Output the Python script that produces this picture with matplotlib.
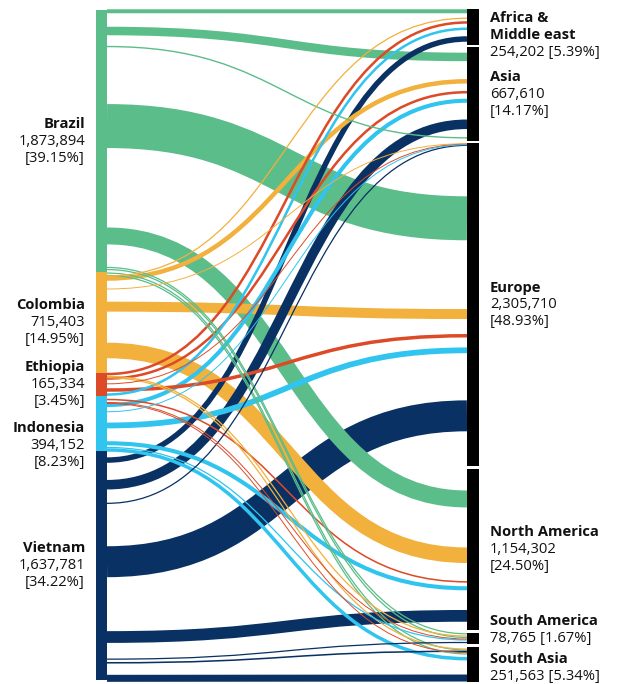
import textwrap
import matplotlib
matplotlib.use("Agg")
import matplotlib.pyplot as plt
from matplotlib.path import Path
from matplotlib.patches import PathPatch, Rectangle

# ---------------- data ----------------
sources = ["Brazil", "Colombia", "Ethiopia", "Indonesia", "Vietnam"]
source_totals = [1873894, 715403, 165334, 394152, 1637781]
source_colors = ["#5BBD8A", "#F2B03C", "#DD4A28", "#30C4EE", "#0A3163"]

targets = ["Africa & Middle east", "Asia", "Europe", "North America",
           "South America", "South Asia"]
target_totals = [254202, 667610, 2305710, 1154302, 78765, 251563]

# links (source index, target index, value in thousand tonnes)
link_source = [0, 0, 0, 0, 0, 0, 0, 0, 0,
               1, 1, 1, 1, 1, 1, 1,
               2, 2, 2, 2, 2, 2, 2,
               3, 3, 3, 3, 3, 3, 3,
               4, 4, 4, 4, 4, 4, 4, 4]
link_target = [0, 1, 1, 2, 3, 4, 4, 5, 5,
               0, 1, 2, 2, 3, 4, 5,
               0, 1, 2, 2, 3, 4, 5,
               0, 1, 2, 2, 3, 4, 5,
               0, 1, 2, 2, 3, 4, 5, 5]
link_value = [95, 203, 33, 1047, 403, 30, 30, 30, 30,
              30, 107, 23, 237, 370, 30, 30,
              60, 60, 23, 83, 37, 23, 23,
              60, 97, 23, 137, 97, 30, 83,
              130, 227, 30, 737, 280, 30, 37, 167]

# ---------------- layout ----------------
# where each link leaves / enters its node (thousand tonnes from node top)
link_src_pos = [9, 150, 261, 829, 1614, 1839, 1854, 1879, 1896,
                26, 44, 119, 245, 558, 743, 753,
                11, 43, 81, 125, 193, 214, 221,
                -8, 67, 115, 213, 340, 370, 388,
                66, 242, 375, 792, 1330, 1488, 1514, 1625]
link_tgt_pos = [16, 69, 647, 535, 215, 5, 31, 23, 51,
                66, 243, 2, 1219, 617, 21, 16,
                96, 321, 6, 1374, 807, 42, 41,
                141, 382, 10, 1478, 853, 49, 85,
                214, 550, 14, 1946, 1050, 67, 32, 223]

FIG_W, FIG_H, DPI = 621, 684, 100
PX_PER_KT = 0.14
TOP_PX = 10
LINK_SCALE = 0.3
LEFT_X = (96, 107)
RIGHT_X = (467, 479)
RIGHT_START = -7
RIGHT_GAP = 19
LINE_KT = 17.2 / PX_PER_KT
LEFT_LABEL_GAP = 68
RIGHT_LABEL_GAP = 25
TEXT_COLOR = "#111111"
FONT = ["Open Sans", "DejaVu Sans"]
FONT_SIZE = 10.6

fig = plt.figure(figsize=(FIG_W / DPI, FIG_H / DPI), dpi=DPI)
ax = fig.add_axes([0, 0, 1, 1])
ax.set_xlim(0, FIG_W)
ax.set_ylim((FIG_H - TOP_PX) / PX_PER_KT, -TOP_PX / PX_PER_KT)
ax.axis("off")

src_kt = [v / 1000 for v in source_totals]
tgt_kt = [v / 1000 for v in target_totals]

left_top = []
acc = 0.0
for h in src_kt:
    left_top.append(acc)
    acc += h

right_top = []
acc = RIGHT_START
for h in tgt_kt:
    right_top.append(acc)
    acc += h + RIGHT_GAP

# points per thousand tonnes on the y axis
p0 = ax.transData.transform((0, 0))
p1 = ax.transData.transform((0, 1))
ky_pt = abs(p1[1] - p0[1]) * 72.0 / DPI

# links: widest first so thin flows stay visible on top
xa, xb = LEFT_X[1], RIGHT_X[0]
xm = (xa + xb) / 2
order = sorted(range(len(link_value)), key=lambda i: -link_value[i])
for i in order:
    s, t, v = link_source[i], link_target[i], link_value[i]
    y0 = left_top[s] + link_src_pos[i]
    y1 = right_top[t] + link_tgt_pos[i]
    path = Path([(xa, y0), (xm, y0), (xm, y1), (xb, y1)],
                [Path.MOVETO, Path.CURVE4, Path.CURVE4, Path.CURVE4])
    ax.add_patch(PathPatch(path, facecolor="none", edgecolor=source_colors[s],
                           lw=v * LINK_SCALE * ky_pt, capstyle="butt", zorder=2))

# nodes
for top, h, c in zip(left_top, src_kt, source_colors):
    ax.add_patch(Rectangle((LEFT_X[0], top), LEFT_X[1] - LEFT_X[0], h,
                           facecolor=c, edgecolor="none", zorder=3))
for top, h in zip(right_top, tgt_kt):
    ax.add_patch(Rectangle((RIGHT_X[0], top), RIGHT_X[1] - RIGHT_X[0], h,
                           facecolor="black", edgecolor="none", zorder=3))


def place(centers, nlines, lo, hi, line, gap):
    hts = [n * line for n in nlines]
    y = list(centers)
    for i in range(len(y)):
        minimum = lo if i == 0 else y[i - 1] + hts[i - 1] / 2 + gap
        if y[i] - hts[i] / 2 < minimum:
            y[i] = minimum + hts[i] / 2
    for i in reversed(range(len(y))):
        maximum = hi if i == len(y) - 1 else y[i + 1] - hts[i + 1] / 2 - gap
        if y[i] + hts[i] / 2 > maximum:
            y[i] = maximum - hts[i] / 2
    return y


def draw_labels(names, totals, tops, heights, x, ha, wrap_width, split_all, gap):
    grand = sum(totals)
    blocks = []
    for n, v in zip(names, totals):
        name_lines = textwrap.wrap(n, 11) if len(n) > 15 else [n]
        val = f"{v:,}"
        pct = f"[{100 * v / grand:.2f}%]"
        joined = f"{val} {pct}"
        if split_all or len(joined) > wrap_width:
            vl = [val, pct]
        else:
            vl = [joined]
        blocks.append((name_lines, vl))
    centers = [t + h / 2 for t, h in zip(tops, heights)]
    nl = [len(a) + len(b) for a, b in blocks]
    lo = tops[0]
    hi = (685 - TOP_PX) / PX_PER_KT
    ys = place(centers, nl, lo, hi, LINE_KT, gap)
    for (name_lines, vl), yc, n in zip(blocks, ys, nl):
        lines = [(l, "bold") for l in name_lines] + [(l, "normal") for l in vl]
        for j, (txt, w) in enumerate(lines):
            yy = yc + (j - (n - 1) / 2) * LINE_KT
            ax.text(x, yy, txt, ha=ha, va="center", fontsize=FONT_SIZE,
                    fontweight=w, color=TEXT_COLOR, family=FONT, zorder=4)


draw_labels(sources, source_totals, left_top, src_kt, 85, "right", 12, True,
            LEFT_LABEL_GAP)
draw_labels(targets, target_totals, right_top, tgt_kt, 490, "left", 15, False,
            RIGHT_LABEL_GAP)

fig.savefig("out.png", dpi=DPI, facecolor="white")
